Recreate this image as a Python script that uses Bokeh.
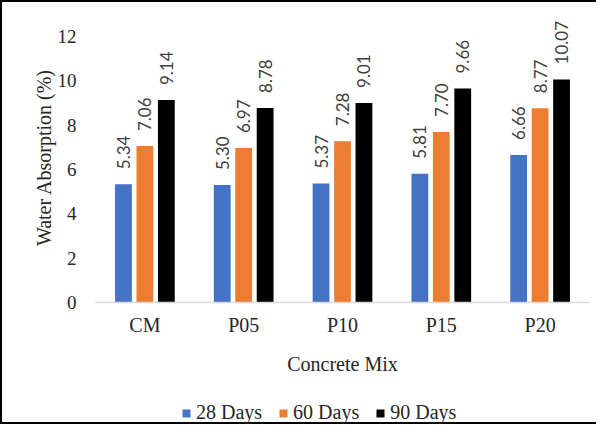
from bokeh.plotting import figure
from bokeh.models import ColumnDataSource, FactorRange, Range1d, FixedTicker, Legend, LegendItem
from bokeh.layouts import column
from bokeh.transform import dodge
from bokeh.core.properties import value
from bokeh.embed import file_html
from bokeh.resources import INLINE
import math

mixes = ["CM", "P05", "P10", "P15", "P20"]
days28 = [5.34, 5.30, 5.37, 5.81, 6.66]
days60 = [7.06, 6.97, 7.28, 7.70, 8.77]
days90 = [9.14, 8.78, 9.01, 9.66, 10.07]
series_names = ["28 Days", "60 Days", "90 Days"]
y_ticks = [0, 2, 4, 6, 8, 10, 12]

colors = ["#4472C4", "#ED7D31", "#000000"]
offsets = [-0.217, 0.0, 0.217]
cols = ["d28", "d60", "d90"]

src = ColumnDataSource(dict(
    mix=mixes, d28=days28, d60=days60, d90=days90,
    l28=[f"{v:.2f}" for v in days28],
    l60=[f"{v:.2f}" for v in days60],
    l90=[f"{v:.2f}" for v in days90],
))

xr = FactorRange(factors=mixes, range_padding=0)
p = figure(width=596, height=392, x_range=xr,
           y_range=Range1d(0, 13.09), output_backend="svg", toolbar_location=None,
           min_border_left=93, min_border_right=9, min_border_top=10, min_border_bottom=92)
p.styles = {"border-left": "2px solid black", "border-top": "2px solid black"}
p.outline_line_color = None
p.xgrid.grid_line_color = None
p.ygrid.grid_line_color = None

serif = "Liberation Serif"
for col, lab, c, off in zip(cols, ["l28", "l60", "l90"], colors, offsets):
    p.vbar(x=dodge("mix", off, range=xr), top=col, width=0.17, source=src,
           fill_color=c, line_color=None)
    p.text(x=dodge("mix", off, range=xr), y=col, text=lab, source=src,
           angle=math.pi / 2, text_align="left", text_baseline="middle",
           y_offset=-15, text_font=value("Lato"), text_font_size="17px",
           text_color="#404040")

# axes
p.yaxis.ticker = FixedTicker(ticks=y_ticks)
p.yaxis.axis_line_color = None
p.yaxis.major_tick_line_color = None
p.yaxis.minor_tick_line_color = None
p.yaxis.major_label_text_font = serif
p.yaxis.major_label_text_font_size = "19px"
p.yaxis.major_label_text_color = "#262626"
p.yaxis.major_label_standoff = 13
p.yaxis.axis_label = "Water Absorption (%)"
p.yaxis.axis_label_text_font = serif
p.yaxis.axis_label_text_font_size = "20px"
p.yaxis.axis_label_text_font_style = "normal"
p.yaxis.axis_label_text_color = "#262626"
p.yaxis.axis_label_standoff = 0

p.xaxis.axis_line_color = "#d9d9d9"
p.xaxis.axis_line_width = 1.5
p.xaxis.major_tick_line_color = None
p.xaxis.minor_tick_line_color = None
p.xaxis.major_label_text_font = serif
p.xaxis.major_label_text_font_size = "20px"
p.xaxis.major_label_text_color = "#262626"
p.xaxis.major_label_standoff = 5
p.xaxis.axis_label = "Concrete Mix"
p.xaxis.axis_label_text_font = serif
p.xaxis.axis_label_text_font_size = "20px"
p.xaxis.axis_label_text_font_style = "normal"
p.xaxis.axis_label_text_color = "#262626"
p.xaxis.axis_label_standoff = 14

# legend strip below the chart (same series as hidden zero-size bars, only their legend shows)
pl = figure(width=596, height=32, x_range=xr, y_range=Range1d(20, 21),
            output_backend="svg", toolbar_location=None, x_axis_type=None, y_axis_type=None,
            min_border=0)
pl.styles = {"border-left": "2px solid black", "border-bottom": "2px solid black"}
pl.outline_line_color = None
pl.xgrid.grid_line_color = None
pl.ygrid.grid_line_color = None
leg_renderers = []
for col, c, off in zip(cols, colors, offsets):
    leg_renderers.append(pl.vbar(x=dodge("mix", off, range=xr), top=col, bottom=col, width=0.001,
                                 source=src, fill_color=c, line_color=None))

legend = Legend(items=[LegendItem(label=n, renderers=[r]) for n, r in zip(series_names, leg_renderers)],
                orientation="horizontal", location=(86, 0), padding=0, margin=0,
                spacing=16, glyph_width=10, glyph_height=10, label_standoff=5,
                label_height=20, label_text_font=serif, label_text_font_size="20px",
                label_text_color="#262626", border_line_color=None, background_fill_alpha=0)
pl.add_layout(legend, "center")

layout = column(p, pl, spacing=0)
open("out.html", "w").write(file_html(layout, INLINE))
